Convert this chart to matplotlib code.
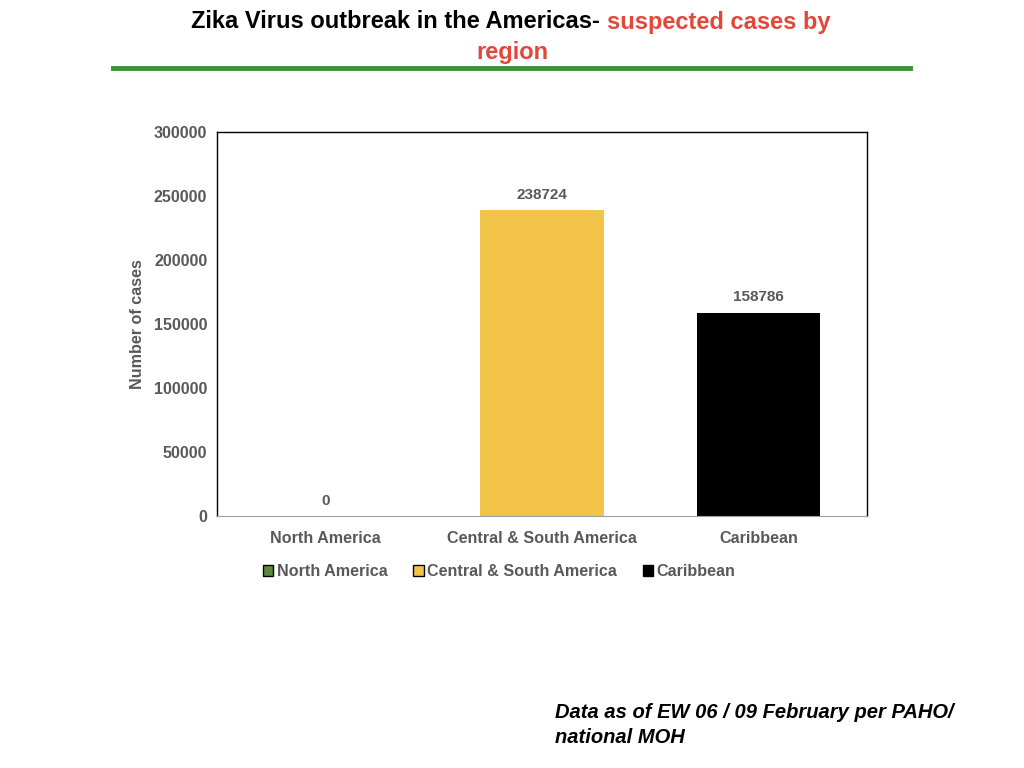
import matplotlib.pyplot as plt
from matplotlib.patches import Patch

# Daten
regions = ["North America", "Central & South America", "Caribbean"]
cases = [0, 238724, 158786]
bar_colors = ["#5B8A3C", "#F2C447", "#000000"]

grey = "#595959"
plt.rcParams['font.family'] = ['Liberation Sans', 'DejaVu Sans']

fig = plt.figure(figsize=(10.24, 7.68), dpi=100)
ax = fig.add_axes([217/1024, 1 - 516/768, 650/1024, 384/768])

x = range(len(regions))
bars = ax.bar(x, cases, width=0.57, color=bar_colors)
ax.set_xlim(-0.5, 2.5)
ax.set_ylim(0, 300000)
ax.set_yticks(range(0, 300001, 50000))
ax.set_xticks(list(x))
ax.set_xticklabels(regions)
ax.tick_params(length=0, labelsize=11.6, labelcolor=grey)
for lab in ax.get_xticklabels() + ax.get_yticklabels():
    lab.set_fontweight("bold")
ax.tick_params(axis='x', pad=10.5)
ax.tick_params(axis='y', pad=7)
ax.spines['bottom'].set_color("#A0A0A0")
for s in ['top', 'left', 'right']:
    ax.spines[s].set_color("black")
    ax.spines[s].set_linewidth(1.0)

ax.set_ylabel("Number of cases", fontsize=11.6, fontweight="bold", color=grey)
ax.yaxis.set_label_coords(-0.111, 0.5)

ax.bar_label(bars, labels=[str(v) for v in cases], padding=6,
             fontsize=11, fontweight="bold", color=grey)

# Legende
handles = [Patch(facecolor=c, edgecolor="black", linewidth=1.0) for c in bar_colors]
fig.legend(handles, regions, loc="center", bbox_to_anchor=(499/1024, 1 - 572/768),
           ncol=3, frameon=False, handlelength=0.65, handleheight=0.65,
           handletextpad=0.2, columnspacing=1.6,
           prop={'size': 11.6, 'weight': 'bold'}, labelcolor=grey)

# Titel (zwei Farben)
fig.canvas.draw()
renderer = fig.canvas.get_renderer()
y1 = 1 - 22/768
gap = 7/1024
t1 = fig.text(0, y1, "Zika Virus outbreak in the Americas-", fontsize=17,
              fontweight="bold", color="black", ha="left", va="center")
t2 = fig.text(0, y1, "suspected cases by", fontsize=17,
              fontweight="bold", color="#E2473A", ha="left", va="center")
w1 = t1.get_window_extent(renderer).width / 1024
w2 = t2.get_window_extent(renderer).width / 1024
x0 = 511/1024 - (w1 + gap + w2) / 2
t1.set_x(x0)
t2.set_x(x0 + w1 + gap)
fig.text(512/1024, 1 - 52/768, "region", fontsize=17, fontweight="bold",
         color="#E2473A", ha="center", va="center")

# gruene Linie
fig.add_artist(plt.Line2D([113/1024, 910/1024], [1 - 68/768, 1 - 68/768],
                          color="#3C9132", linewidth=3.5))

# Fussnote
fig.text(555/1024, 1 - 725/768, "Data as of EW 06 / 09 February per PAHO/\nnational MOH",
         fontsize=14.5, fontweight="bold", fontstyle="italic", color="black",
         ha="left", va="center", linespacing=1.45)

plt.savefig("out.png", dpi=100)
